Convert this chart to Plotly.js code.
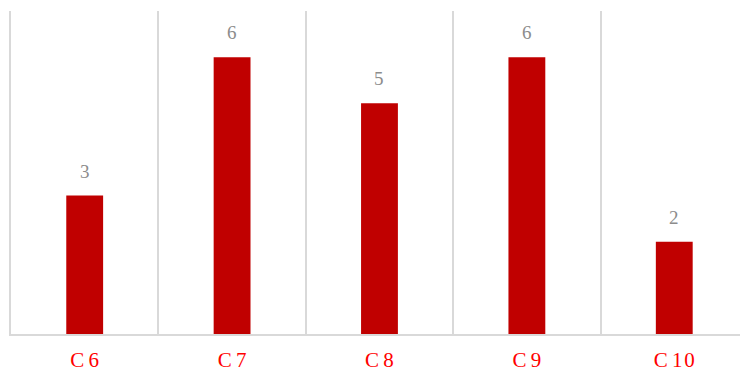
<!DOCTYPE html>
<html>
<head>
<meta charset="utf-8">
<script src="https://cdn.plot.ly/plotly-3.0.1.min.js"></script>
<style>html,body{margin:0;padding:0;background:#fff;overflow:hidden}#chart{width:740px;height:374px}</style>
</head>
<body>
<div id="chart"></div>
<script>
var categories = ["C6", "C7", "C8", "C9", "C10"];
var tickLabels = ["C\u20096", "C\u20097", "C\u20098", "C\u20099", "C\u20091\u200A0"];
var values = [3, 6, 5, 6, 2];

var trace = {
  type: "bar",
  x: categories,
  y: values,
  width: 0.25,
  marker: {color: "#C00000"},
  hoverinfo: "none"
};

var annotations = categories.map(function (c, i) {
  return {
    x: c, y: values[i], xref: "x", yref: "y",
    text: String(values[i]), showarrow: false,
    yanchor: "bottom", yshift: 12,
    font: {family: "Liberation Serif, serif", size: 19, color: "#8c8c8c"}
  };
});

var layout = {
  width: 740, height: 374,
  margin: {l: 11, r: 0, t: 11, b: 40},
  paper_bgcolor: "#ffffff", plot_bgcolor: "#ffffff",
  showlegend: false,
  xaxis: {
    type: "category",
    tickvals: categories,
    ticktext: tickLabels,
    range: [-0.5, 4.446],
    tickson: "boundaries",
    showgrid: true, gridcolor: "#d9d9d9", gridwidth: 2,
    showline: true, linecolor: "#d9d9d9", linewidth: 2,
    ticks: "", ticklabelstandoff: 6,
    tickfont: {family: "Liberation Serif, serif", size: 21, color: "#ff0000"},
    fixedrange: true
  },
  yaxis: {
    range: [0, 7],
    showgrid: false, zeroline: false,
    showline: true, linecolor: "#d9d9d9", linewidth: 2,
    showticklabels: false, ticks: "",
    fixedrange: true
  },
  annotations: annotations
};

Plotly.newPlot("chart", [trace], layout, {staticPlot: true, displayModeBar: false});
</script>
</body>
</html>
